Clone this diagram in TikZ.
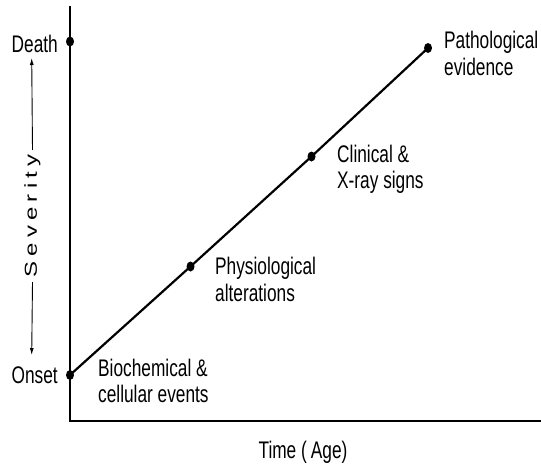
\documentclass[tikz,border=0pt]{standalone}
\usepackage{fontspec}
\setmainfont{Liberation Sans}[FakeStretch=0.72]
\newfontfamily\sevfont{Liberation Sans}[LetterSpace=22]
\usepackage{tikz}
\usetikzlibrary{positioning,arrows.meta,shapes.geometric}

\begin{document}
\begin{tikzpicture}[
    x=1pt, y=-1pt,
    lbl/.style={
        inner sep=0pt,
        align=left,
        font=\fontsize{24}{26.5}\selectfont
    },
    dot/.style={
        ellipse,
        fill=black,
        inner sep=0pt,
        minimum width=8pt,
        minimum height=10pt
    },
    axis/.style={
        line width=2.6pt,
        line cap=rect
    },
    curve/.style={
        line width=2.2pt
    },
    arrow/.style={
        -{Latex[length=7pt,width=4pt]},
        line width=0.9pt
    }
]
\useasboundingbox (0,0) rectangle (541,467);

\coordinate (ytop) at (70,7);
\coordinate (origin) at (70,421);
\coordinate (xend) at (540,421);
\coordinate (sevtop) at (31.7,58);
\coordinate (sevbot) at (31.7,355);

\node[dot] (death) at (70,41.5) {};
\node[dot] (onset) at (70,375) {};
\node[dot] (physio) at (190.5,266.5) {};
\node[dot] (clinic) at (311.5,156.5) {};
\node[dot] (patho) at (428,48) {};

\node[lbl,anchor=base east] (deathlbl) at (58,52) {Death};
\node[lbl,anchor=base east] (onsetlbl) at (58,383) {Onset};
\node[lbl,anchor=north west] (biolbl) at (98,358.5) {Biochemical \&\\cellular events};
\node[lbl,anchor=north west] (physlbl) at (215,257) {Physiological\\alterations};
\node[lbl,anchor=north west] (cliniclbl) at (337,144.5) {Clinical \&\\X-ray signs};
\node[lbl,anchor=north west] (patholbl) at (444,31) {Pathological\\evidence};
\node[lbl] (timelbl) at (303,452) {Time (\,Age)};
\node[inner sep=4pt,rotate=90,yscale=0.72,font=\sevfont\fontsize{24}{26.5}\selectfont] (sev) at (32.5,216) {Severity};

\draw[axis] (ytop) -- (origin) -- (xend);
\draw[curve] (onset.center) -- (physio.center) -- (clinic.center) -- (patho.center);
\draw[arrow] (sev.east) -- (sevtop);
\draw[arrow] (sev.west) -- (sevbot);

\end{tikzpicture}
\end{document}
